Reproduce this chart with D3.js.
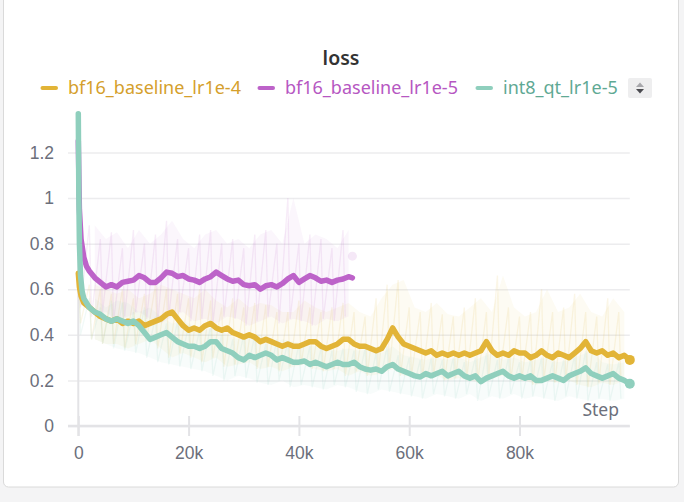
<!DOCTYPE html>
<html>
<head>
<meta charset="utf-8">
<script src="https://cdn.jsdelivr.net/npm/d3@7"></script>
<style>
  body { margin: 0; background: #f4f4f5; }
  svg { display: block; font-family: "Noto Sans", "Open Sans", sans-serif; }
</style>
</head>
<body>
<div id="loss-graph"></div>
<script>
/* global d3 */
// step values are in thousands
const seriesNames = ['bf16_baseline_lr1e-4', 'bf16_baseline_lr1e-5', 'int8_qt_lr1e-5'];
const yTicks = [0, 0.2, 0.4, 0.6, 0.8, 1, 1.2];
const xTicks = [0, 20, 40, 60, 80];

const goldSteps = [0, 0.2, 0.5].concat(d3.range(1, 101));
const goldLoss = [0.67, 0.61, 0.57,
  0.54, 0.52, 0.50, 0.48, 0.47, 0.46, 0.47, 0.45, 0.46, 0.45,
  0.46, 0.44, 0.45, 0.46, 0.47, 0.49, 0.50, 0.47, 0.44, 0.42,
  0.43, 0.42, 0.44, 0.45, 0.43, 0.42, 0.43, 0.41, 0.40, 0.39,
  0.40, 0.39, 0.37, 0.38, 0.37, 0.36, 0.35, 0.36, 0.35, 0.35,
  0.36, 0.37, 0.37, 0.35, 0.34, 0.35, 0.36, 0.38, 0.38, 0.36,
  0.35, 0.35, 0.34, 0.33, 0.34, 0.38, 0.43, 0.39, 0.36, 0.35,
  0.34, 0.33, 0.32, 0.33, 0.31, 0.32, 0.31, 0.32, 0.31, 0.32,
  0.31, 0.32, 0.33, 0.37, 0.33, 0.31, 0.32, 0.31, 0.33, 0.32,
  0.32, 0.30, 0.31, 0.33, 0.31, 0.30, 0.32, 0.31, 0.30, 0.32,
  0.34, 0.37, 0.33, 0.32, 0.33, 0.31, 0.32, 0.30, 0.31, 0.29];

const purpleSteps = [0, 0.2, 0.5, 1, 1.5].concat(d3.range(2, 50), [49.7]);
const purpleLoss = [1.25, 0.95, 0.82, 0.74, 0.70,
  0.68, 0.65, 0.63, 0.61, 0.62, 0.61, 0.63, 0.635, 0.64,
  0.66, 0.65, 0.63, 0.63, 0.65, 0.675, 0.67, 0.655, 0.66, 0.645,
  0.64, 0.63, 0.645, 0.655, 0.675, 0.66, 0.645, 0.635, 0.64, 0.62,
  0.615, 0.62, 0.60, 0.615, 0.62, 0.61, 0.625, 0.645, 0.66, 0.63,
  0.645, 0.66, 0.65, 0.635, 0.64, 0.63, 0.64, 0.645, 0.655, 0.65];

const tealSteps = [0, 0.1, 0.2, 0.4, 0.7].concat(d3.range(1, 101));
const tealLoss = [1.37, 1.0, 0.80, 0.66, 0.59,
  0.56, 0.52, 0.50, 0.49, 0.47, 0.46, 0.47, 0.46, 0.45, 0.46,
  0.44, 0.41, 0.38, 0.39, 0.40, 0.41, 0.39, 0.37, 0.36, 0.35,
  0.35, 0.34, 0.35, 0.37, 0.37, 0.34, 0.33, 0.32, 0.30, 0.29,
  0.31, 0.30, 0.31, 0.32, 0.31, 0.29, 0.30, 0.29, 0.28, 0.28,
  0.285, 0.27, 0.28, 0.27, 0.26, 0.27, 0.28, 0.27, 0.27, 0.28,
  0.26, 0.25, 0.245, 0.25, 0.24, 0.26, 0.27, 0.25, 0.24, 0.23,
  0.22, 0.215, 0.23, 0.22, 0.23, 0.24, 0.22, 0.23, 0.24, 0.22,
  0.21, 0.22, 0.195, 0.21, 0.22, 0.23, 0.24, 0.22, 0.21, 0.22,
  0.21, 0.22, 0.20, 0.20, 0.21, 0.22, 0.21, 0.20, 0.22, 0.23,
  0.24, 0.255, 0.23, 0.22, 0.21, 0.22, 0.23, 0.21, 0.20, 0.185];

// raw (unsmoothed) spread, one high/low pair per 2k bin
const rawBins = d3.range(0, 100, 2);
const goldRawHi = [0.66, 0.62, 0.60, 0.58, 0.60, 0.56, 0.58, 0.62, 0.60, 0.58,
  0.56, 0.60, 0.55, 0.52, 0.56, 0.52, 0.54, 0.53, 0.50, 0.50,
  0.55, 0.52, 0.50, 0.52, 0.54, 0.50, 0.48, 0.56, 0.62, 0.64,
  0.52, 0.50, 0.54, 0.49, 0.48, 0.52, 0.56, 0.50, 0.66, 0.52,
  0.48, 0.50, 0.60, 0.50, 0.52, 0.58, 0.50, 0.48, 0.56, 0.50];
const goldRawLo = [0.45, 0.38, 0.36, 0.36, 0.34, 0.36, 0.38, 0.34, 0.30, 0.32,
  0.30, 0.28, 0.30, 0.26, 0.27, 0.28, 0.25, 0.26, 0.24, 0.26,
  0.27, 0.25, 0.24, 0.25, 0.22, 0.24, 0.22, 0.23, 0.25, 0.22,
  0.22, 0.21, 0.22, 0.20, 0.21, 0.20, 0.19, 0.21, 0.22, 0.20,
  0.20, 0.18, 0.20, 0.19, 0.20, 0.18, 0.17, 0.19, 0.18, 0.20];
const purpleRawHi = [1.2, 0.88, 0.82, 0.85, 0.78, 0.86, 0.80, 0.84, 0.90, 0.82,
  0.78, 0.84, 0.86, 0.80, 0.82, 0.78, 0.84, 0.86, 0.80, 1.00,
  0.80, 0.84, 0.82, 0.78, 0.86];
const purpleRawLo = [0.52, 0.48, 0.50, 0.46, 0.48, 0.50, 0.47, 0.45, 0.48, 0.50,
  0.46, 0.47, 0.45, 0.48, 0.47, 0.44, 0.46, 0.48, 0.45, 0.47,
  0.46, 0.44, 0.47, 0.46, 0.48];
const tealRawHi = [1.0, 0.56, 0.52, 0.55, 0.54, 0.50, 0.52, 0.48, 0.45, 0.46,
  0.44, 0.42, 0.44, 0.40, 0.38, 0.40, 0.40, 0.36, 0.38, 0.37,
  0.36, 0.35, 0.34, 0.33, 0.34, 0.33, 0.34, 0.32, 0.35, 0.31,
  0.30, 0.29, 0.30, 0.29, 0.30, 0.28, 0.30, 0.32, 0.29, 0.30,
  0.28, 0.29, 0.30, 0.28, 0.29, 0.31, 0.33, 0.28, 0.27, 0.28];
const tealRawLo = [0.40, 0.38, 0.36, 0.34, 0.33, 0.32, 0.30, 0.28, 0.27, 0.26,
  0.25, 0.24, 0.22, 0.20, 0.22, 0.21, 0.19, 0.18, 0.20, 0.17,
  0.18, 0.17, 0.16, 0.18, 0.17, 0.15, 0.14, 0.16, 0.15, 0.14,
  0.13, 0.12, 0.14, 0.13, 0.12, 0.14, 0.11, 0.13, 0.12, 0.14,
  0.12, 0.13, 0.12, 0.11, 0.13, 0.12, 0.11, 0.12, 0.11, 0.12];
const purpleLastRaw = 0.745;

const lineColors = ['#e2b437', '#bd63c9', '#8fcfbd'];
const textColors = ['#d59f2c', '#b657c2', '#5fa994'];

let appendGroupTo = (name, appendTo) => {
  return appendTo.append('g').attr('id', name);
};

let w = 684, h = 502;
let svg = d3.select('#loss-graph')
  .append('svg')
    .attr('width', w)
    .attr('height', h);

// panel
svg.append('rect')
  .attr('x', 3.5).attr('y', -10)
  .attr('width', 675).attr('height', 497)
  .attr('rx', 5)
  .attr('fill', '#fff')
  .attr('stroke', '#dadada');

let xScale = d3.scaleLinear().domain([0, 100]).range([78.3, 629.8]);
let yScale = d3.scaleLinear().domain([0, 1.373]).range([426, 113]);

let axes = appendGroupTo('axes', svg);

// grid + y axis
let yAxis = d3.axisLeft(yScale)
  .tickValues(yTicks)
  .tickSize(-(629.8 - 68))
  .tickPadding(14)
  .tickFormat(d => d === 0 ? '0' : d3.format('~g')(d));
let yAxisCont = axes.append('g')
  .attr('transform', 'translate(68,0)')
  .call(yAxis);
yAxisCont.select('.domain').remove();
yAxisCont.selectAll('.tick line')
  .attr('stroke', '#ececee')
  .attr('stroke-width', 1.5);
yAxisCont.selectAll('.tick text')
  .attr('x', -14)
  .attr('fill', '#6c6f7b')
  .style('font-size', '17.5px');

axes.append('line')
  .attr('x1', xScale(0)).attr('x2', xScale(0))
  .attr('y1', 113).attr('y2', 436)
  .attr('stroke', '#e3e3e6').attr('stroke-width', 2);

// x axis
let xAxis = d3.axisBottom(xScale)
  .tickValues(xTicks)
  .tickSize(20)
  .tickPadding(11)
  .tickFormat(d => d === 0 ? '0' : d + 'k');
let xAxisCont = axes.append('g')
  .attr('transform', `translate(0,${yScale(0) - 10})`)
  .call(xAxis);
xAxisCont.select('.domain').remove();
xAxisCont.selectAll('.tick line')
  .attr('stroke', '#e3e3e6').attr('stroke-width', 2);
xAxisCont.selectAll('.tick text')
  .attr('fill', '#6c6f7b')
  .style('font-size', '17.5px');
axes.append('line')
  .attr('x1', 68).attr('x2', xScale(100))
  .attr('y1', yScale(0)).attr('y2', yScale(0))
  .attr('stroke', '#e3e3e6').attr('stroke-width', 2.5);

axes.append('text')
  .attr('x', 619).attr('y', 416)
  .attr('text-anchor', 'end')
  .attr('fill', '#6c6f7b')
  .style('font-size', '17.5px')
  .text('Step');

// data
let dataCont = appendGroupTo('dataCont', svg);

let rawSets = [
  [goldRawHi, goldRawLo],
  [purpleRawHi, purpleRawLo],
  [tealRawHi, tealRawLo]
];
let rawLine = d3.line()
  .x(d => xScale(d[0]))
  .y(d => yScale(d[1]));
let rawArea = d3.area()
  .x(d => xScale(d[0]))
  .y0(d => yScale(d[2]))
  .y1(d => yScale(d[1]));
rawSets.forEach((set, i) => {
  let pts = [];
  let band = [];
  set[0].forEach((hi, j) => {
    pts.push([rawBins[j], hi]);
    pts.push([rawBins[j] + 0.4, set[1][j]]);
    band.push([rawBins[j] + 1, hi, set[1][j]]);
  });
  dataCont.append('path')
    .attr('d', rawArea(band.slice(1)))
    .attr('fill', lineColors[i])
    .attr('fill-opacity', 0.06);
  dataCont.append('path')
    .attr('d', rawLine(pts))
    .attr('fill', 'none')
    .attr('stroke', lineColors[i])
    .attr('stroke-opacity', 0.12)
    .attr('stroke-width', 1.3);
});

dataCont.append('circle')
  .attr('cx', xScale(49.7)).attr('cy', yScale(purpleLastRaw))
  .attr('r', 4.5)
  .attr('fill', lineColors[1])
  .attr('fill-opacity', 0.15);

let smooth = [
  [goldSteps, goldLoss],
  [purpleSteps, purpleLoss],
  [tealSteps, tealLoss]
];
let valueline = d3.line()
  .x(d => xScale(d[0]))
  .y(d => yScale(d[1]));
smooth.forEach((s, i) => {
  let pts = s[0].map((st, j) => [st, s[1][j]]);
  dataCont.append('path')
    .attr('class', 'dataLine')
    .attr('d', valueline(pts))
    .attr('fill', 'none')
    .attr('stroke', lineColors[i])
    .attr('stroke-width', 5.5)
    .attr('stroke-linejoin', 'round')
    .attr('stroke-linecap', 'round');
  if (i !== 1) {
    let last = pts[pts.length - 1];
    dataCont.append('circle')
      .attr('cx', xScale(last[0])).attr('cy', yScale(last[1]))
      .attr('r', 5)
      .attr('fill', lineColors[i]);
  }
});

// title + legend
svg.append('text')
  .attr('x', 341).attr('y', 65)
  .attr('text-anchor', 'middle')
  .attr('fill', '#333')
  .style('font-size', '19.5px')
  .style('font-weight', 600)
  .text('loss');

let legendX = [41, 258, 476];
let legend = appendGroupTo('legend', svg);
seriesNames.forEach((name, i) => {
  legend.append('line')
    .attr('x1', legendX[i] + 1.5).attr('x2', legendX[i] + 15)
    .attr('y1', 88).attr('y2', 88)
    .attr('stroke', lineColors[i])
    .attr('stroke-width', 4)
    .attr('stroke-linecap', 'round');
  legend.append('text')
    .attr('x', legendX[i] + 27).attr('y', 94)
    .attr('fill', textColors[i])
    .style('font-size', '18px')
    .text(name);
});

// sort button
let btn = legend.append('g').attr('transform', 'translate(628,78)');
btn.append('rect')
  .attr('width', 24).attr('height', 20).attr('rx', 2)
  .attr('fill', '#eeeeef');
btn.append('path').attr('d', 'M8,9 L12,4.5 L16,9 Z').attr('fill', '#a7a7ab');
btn.append('path').attr('d', 'M8,11 L12,15.5 L16,11 Z').attr('fill', '#4a4a4f');
</script>
</body>
</html>
